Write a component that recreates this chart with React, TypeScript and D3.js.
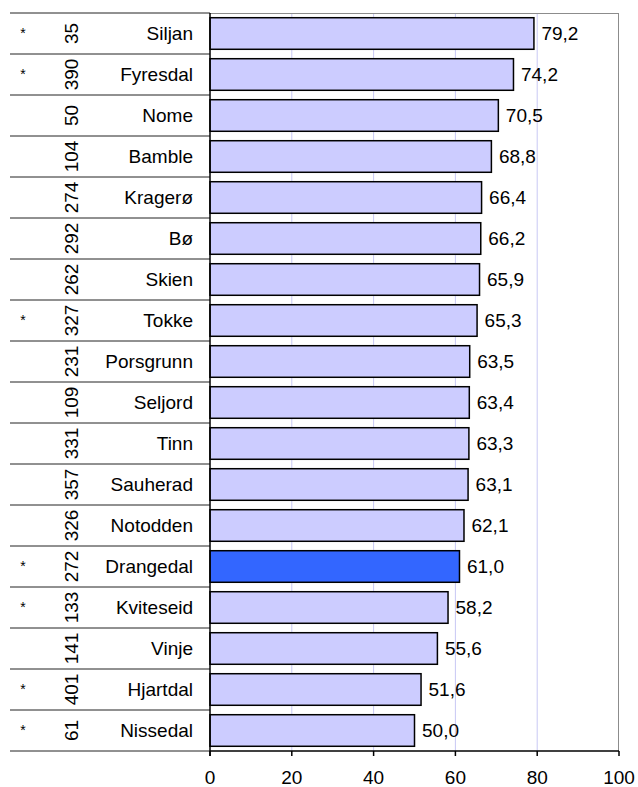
import React from "react";
import * as d3 from "d3";

const names = ["Siljan","Fyresdal","Nome","Bamble","Kragerø","Bø","Skien","Tokke","Porsgrunn","Seljord","Tinn","Sauherad","Notodden","Drangedal","Kviteseid","Vinje","Hjartdal","Nissedal"];
const values = [79.2,74.2,70.5,68.8,66.4,66.2,65.9,65.3,63.5,63.4,63.3,63.1,62.1,61.0,58.2,55.6,51.6,50.0];
const counts = ["35","390","50","104","274","292","262","327","231","109","331","357","326","272","133","141","401","61"];
const stars = ["*","*","","","","","","*","","","","","","*","*","","*","*"];
const highlight = "Drangedal";
const xTicks = [0,20,40,60,80,100];

const W = 638, H = 787;
const left = 210, right = 619, top = 13, bottom = 751;
const font = "'Liberation Sans', Arial, sans-serif";
const fs = 19;

export default function App() {
  const x = d3.scaleLinear().domain([0,100]).range([left,right]);
  const y = d3.scaleBand<string>().domain(names).range([top,bottom]).paddingInner(0.23).paddingOuter(0.115);
  const band = (bottom - top) / names.length;
  const rowY = (i: number) => top + i * band;
  return (
    <div style={{position:"absolute",left:0,top:0}}>
      <svg width={W} height={H} style={{display:"block"}} fontFamily={font}>
        <rect x={0} y={0} width={W} height={H} fill="#fff"/>
        {xTicks.filter(t=>t>0&&t<100).map(t=>(
          <line key={t} x1={x(t)} x2={x(t)} y1={top} y2={bottom} stroke="#c8c8f4" strokeWidth={1}/>
        ))}
        <line x1={left} x2={right} y1={top+0.5} y2={top+0.5} stroke="#8c8c8c" strokeWidth={1}/>
        <line x1={right-0.5} x2={right-0.5} y1={top} y2={bottom} stroke="#8c8c8c" strokeWidth={1}/>
        {d3.range(names.length+1).map(i=>(
          <line key={"r"+i} x1={10} x2={left} y1={rowY(i)} y2={rowY(i)} stroke="#222" strokeWidth={1}/>
        ))}
        {names.map((n,i)=>{
          const yy = y(n)!;
          const cy = rowY(i) + band/2;
          return (
            <g key={n}>
              <rect x={left} y={yy} width={x(values[i])-left} height={y.bandwidth()}
                fill={n===highlight?"#3366ff":"#ccccff"} stroke="#000" strokeWidth={1.5}/>
              <text x={x(values[i])+7.5} y={cy} dy="0.35em" fontSize={fs} fill="#000">{values[i].toFixed(1).replace(".",",")}</text>
              <text x={193} y={cy} dy="0.35em" fontSize={fs} textAnchor="end" fill="#000">{n}</text>
              <text transform={`translate(71,${cy}) rotate(-90)`} dy="0.35em" fontSize={fs} textAnchor="middle" fill="#000">{counts[i]}</text>
              {stars[i] && <text x={23} y={cy} dy="0.35em" fontSize={14} textAnchor="middle" fill="#000">{stars[i]}</text>}
            </g>
          );
        })}
        <line x1={left} x2={left} y1={top} y2={bottom+5} stroke="#000" strokeWidth={1.5}/>
        <line x1={left} x2={right} y1={bottom} y2={bottom} stroke="#000" strokeWidth={1.5}/>
        {xTicks.map(t=>(
          <g key={"t"+t}>
            <line x1={x(t)} x2={x(t)} y1={bottom} y2={bottom+5} stroke="#000" strokeWidth={1.5}/>
            <text x={x(t)} y={784} fontSize={fs} textAnchor="middle" fill="#000">{t}</text>
          </g>
        ))}
      </svg>
    </div>
  );
}
